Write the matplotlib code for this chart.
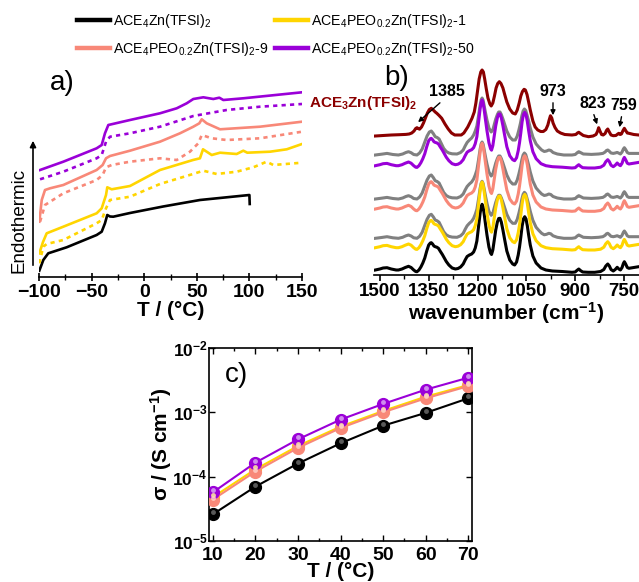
import numpy as np
import matplotlib
matplotlib.use("Agg")
import matplotlib.pyplot as plt
from matplotlib.lines import Line2D
import matplotlib.transforms as mtransforms

plt.rcParams['font.family'] = ['Liberation Sans', 'DejaVu Sans']
plt.rcParams['mathtext.default'] = 'regular'

W, H = 639, 582

# ---------------- colours ----------------
C_BLACK = '#000000'
C_YELLOW = '#FFD500'
C_SALMON = '#F88878'
C_PURPLE = '#9A00D8'
C_GRAY = '#808080'
C_DRED = '#8B0000'

LABELS = ['ACE$_4$Zn(TFSI)$_2$', 'ACE$_4$PEO$_{0.2}$Zn(TFSI)$_2$-1',
          'ACE$_4$PEO$_{0.2}$Zn(TFSI)$_2$-9', 'ACE$_4$PEO$_{0.2}$Zn(TFSI)$_2$-50']

# ---------------- panel a: DSC ----------------
dsc_black_T = [-99.7, -95.9, -91.2, -73.7, -45.2, -40.4, -37.3, -35.1, -32.5, -29.4, -13.5, 18, 53, 100.0, 100.3]
dsc_black_y = [6.3, 17, 23.7, 29.7, 42, 45.3, 53.7, 62, 60.5, 60.3, 64, 70.5, 77, 82, 73]

dsc_yel_T = [-99.7, -96.2, -92.7, -76.9, -45.2, -40.4, -36.3, -35.1, -30.9, -13.5, 15.0, 46.4, 53.0, 55.9, 59.4, 64.2, 72.1, 87.9, 94.2, 98.0, 119.6, 135.5, 150]
dsc_yel_y = [23.7, 35, 43.7, 50.3, 63.7, 68.7, 82, 89.7, 87.7, 91, 107, 117, 118.7, 127.7, 125.3, 122, 124.3, 123, 126.3, 124.3, 125.3, 127.7, 133]
dsc_yel_d_T = [-99.7, -95.9, -92.7, -76.9, -45.2, -40.4, -36.3, -32.5, -13.5, 15, 46.4, 56.2, 68.9, 87.9, 103.7, 116.4, 122.7, 150]
dsc_yel_d_y = [13.7, 30.3, 33, 37, 53.7, 57, 68.7, 77, 80.3, 93, 103, 106.3, 103, 105.3, 109.7, 115.3, 112, 114.3]

dsc_sal_T = [-99.7, -97.4, -94.3, -89.5, -76.9, -45.2, -39.5, -36.3, -32.5, -13.5, 15, 34, 46.7, 52.4, 54.7, 59.4, 72.1, 110.1, 150]
dsc_sal_y = [55.3, 77, 87, 88.7, 92, 107, 112, 118.7, 121, 126.3, 135.3, 143.7, 150.3, 153.7, 157.7, 153.7, 147.7, 150.3, 155.3]
dsc_sal_d_T = [-99, -94.3, -76.9, -45.2, -39.5, -36.3, -30.9, -13.5, 15, 30.9, 43.5, 51.4, 54.7, 64.2, 78.4, 110.1, 150]
dsc_sal_d_y = [55.3, 72, 83.7, 97, 102, 109.7, 112, 115.3, 118.7, 117, 125.3, 133.7, 142, 138.7, 137, 138.7, 145.3]

dsc_pur_T = [-99, -76.9, -45.2, -40.4, -37.3, -34.1, -13.5, 15, 30.9, 40.4, 46.7, 56.2, 65.7, 71.4, 75.2, 94.2, 150]
dsc_pur_y = [107, 115.3, 128.7, 132, 143.7, 152, 157, 163.7, 168.7, 173.7, 178, 179.7, 178, 179.3, 177, 178.7, 184.7]
dsc_pur_d_T = [-99, -76.9, -45.2, -40.4, -36.3, -32.5, -13.5, 15, 46.7, 78.4, 110.1, 150]
dsc_pur_d_y = [97.7, 105.3, 118.7, 122, 135.3, 140.3, 143.7, 150.3, 161, 167, 170.3, 173]

# ---------------- panel b: FTIR ----------------
ir_w = [1514, 1500, 1490, 1478, 1465, 1450, 1443, 1432, 1422, 1412, 1404, 1396, 1390, 1386, 1380, 1374,
        1368, 1362, 1356, 1350, 1345, 1342, 1338, 1334, 1330, 1325, 1320, 1314, 1308, 1302, 1296, 1288,
        1278, 1268, 1260, 1252, 1244, 1238, 1232, 1225, 1218, 1212, 1207, 1202, 1197, 1192, 1189, 1186,
        1183, 1180, 1176, 1171, 1165, 1160, 1157, 1153, 1149, 1144, 1139, 1135, 1131, 1127, 1122, 1117,
        1110, 1101, 1092, 1086, 1080, 1075, 1071, 1067, 1063, 1059, 1055, 1051, 1047, 1043, 1038, 1030,
        1020, 1005, 990, 970, 940, 910, 900, 895, 889, 884, 877, 860, 840, 822, 812, 806,
        800, 795, 790, 783, 777, 771, 766, 761, 756, 752, 749, 745, 740, 735, 720, 705]
ir_ace4 = [7, 8, 9, 9.3, 8, 7, 7, 8, 9.5, 10.7, 9.5, 7, 5.5, 5.3, 7, 10,
           14, 19, 26, 32, 34, 34.3, 33, 31, 30.3, 29.8, 28.7, 25.5, 22.5, 19, 15.5, 12,
           9, 8, 8.5, 10, 13, 17, 20.5, 22, 23, 25, 29, 36, 50, 64, 70, 72.7,
           70, 64, 54, 42, 30, 24, 22.5, 27, 36, 47, 55, 58.5, 58.7, 55, 47, 38,
           26, 17, 13, 12, 15, 22, 30, 40, 51, 58, 60.3, 58, 51, 42, 32, 21,
           14, 9, 7, 6, 5.5, 4.7, 5, 6.5, 8, 6.5, 5, 4.7, 4.7, 5.5, 7.5, 11,
           13, 11, 7.5, 6, 7.5, 9.7, 8, 7, 9.5, 13.5, 15.3, 13, 9.5, 8.7, 9.5, 10.3]

ir_gray_w = [1514, 1495, 1478, 1460, 1443, 1430, 1420, 1412, 1404, 1396, 1386, 1378, 1370, 1362, 1355, 1348,
             1342, 1336, 1330, 1324, 1318, 1312, 1304, 1296, 1288, 1278, 1263, 1252, 1244, 1238, 1232, 1225,
             1218, 1212, 1207, 1202, 1197, 1192, 1189, 1186, 1183, 1180, 1176, 1171, 1165, 1158, 1153, 1149,
             1144, 1139, 1135, 1131, 1127, 1122, 1117, 1110, 1101, 1092, 1084, 1078, 1073, 1068, 1064, 1060,
             1056, 1052, 1048, 1043, 1038, 1030, 1020, 1012, 1003, 995, 988, 981, 975, 968, 955, 935,
             910, 900, 893, 889, 884, 875, 850, 828, 815, 808, 804, 800, 796, 790, 783, 777,
             771, 766, 761, 756, 752, 749, 745, 740, 735, 720, 705]
ir_gray = [7, 7.8, 8.6, 7.5, 7, 8, 9.5, 10.3, 9.3, 7.5, 7, 9, 13, 20, 26, 30,
           31, 28.5, 25.3, 24.5, 23, 19, 13.6, 10.5, 9, 8.2, 8, 9.5, 12, 16, 19.5, 22,
           24, 27, 31, 36, 46, 57, 62, 64, 62, 57, 50, 42, 34, 30, 32, 37,
           43, 47.5, 50, 50, 47.5, 43, 38, 31, 25, 22, 22, 26, 32, 39, 46, 51,
           53, 51.5, 47, 41, 34, 25, 18, 15, 12, 10.5, 11, 12, 11.5, 9.5, 8, 7,
           7, 7.5, 9.5, 10.3, 9.5, 8, 7.6, 8, 8.6, 10, 11.5, 12, 11, 9, 8.6, 9,
           9.6, 8.8, 8, 10, 13, 14.3, 12.5, 9.5, 8.6, 8.6, 8.6]

ir_ace3_w = [1514, 1490, 1465, 1440, 1420, 1410, 1402, 1395, 1390, 1386, 1382, 1378, 1372, 1366, 1360, 1354,
             1348, 1342, 1336, 1330, 1325, 1318, 1310, 1300, 1290, 1280, 1270, 1250, 1242, 1236, 1230, 1224,
             1217, 1210, 1205, 1200, 1195, 1190, 1186, 1182, 1178, 1173, 1168, 1162, 1158, 1153, 1148, 1143,
             1138, 1133, 1128, 1122, 1117, 1110, 1101, 1092, 1084, 1078, 1072, 1067, 1062, 1057, 1053, 1048,
             1043, 1038, 1030, 1023, 1015, 1006, 998, 990, 984, 980, 976, 972, 968, 962, 955, 945,
             932, 910, 898, 893, 889, 884, 875, 859, 845, 836, 831, 828, 824, 819, 814, 808,
             804, 800, 796, 790, 783, 775, 770, 766, 762, 758, 753, 749, 745, 740, 735, 720, 705]
ir_ace3 = [7, 7.5, 8, 8.3, 8.6, 9, 10, 12, 14.5, 15.3, 14.5, 13.8, 16, 20, 25, 30,
           33.5, 34.7, 33, 31, 29.7, 27.5, 24.7, 19, 14, 10, 8, 8, 10, 13, 16, 20,
           24.7, 31, 40, 52, 64, 71, 73, 71, 64, 54, 45, 39, 37, 40, 47, 55,
           59.5, 61.3, 59.5, 55, 49, 41, 34, 30, 29, 33, 40, 47, 51.5, 53.7, 53, 48.5,
           41, 33, 22, 16, 13, 11.5, 11.5, 13.5, 18, 23, 27.3, 25, 20, 15.5, 12, 10,
           8.5, 8, 8.5, 10, 10.7, 9.5, 7.5, 6.3, 7, 8.5, 12, 15.3, 12, 8.5, 8, 9.5,
           12.5, 14, 11.5, 8, 7.3, 7.5, 8.8, 9.7, 8.5, 9, 12.5, 14.7, 12.5, 10, 9.7, 8.5, 8]

ir_color_offsets = [0, 22.3, 61, 104.3]     # black, yellow, salmon, purple
ir_gray_offsets = [31.7, 71, 115]
ir_ace3_offset = 134

# ---------------- panel c: conductivity ----------------
cond_T = [10, 20, 30, 40, 50, 60, 70]
cond_black = [2.6e-5, 7.0e-5, 1.6e-4, 3.3e-4, 6.2e-4, 9.8e-4, 1.65e-3]
cond_yellow = [4.8e-5, 1.3e-4, 3.0e-4, 6.0e-4, 1.05e-3, 1.75e-3, 2.65e-3]
cond_salmon = [4.4e-5, 1.2e-4, 2.8e-4, 5.7e-4, 1.0e-3, 1.65e-3, 2.55e-3]
cond_purple = [5.7e-5, 1.65e-4, 3.8e-4, 7.7e-4, 1.35e-3, 2.25e-3, 3.45e-3]


def rect(l, t, r, b):
    return [l / W, 1 - b / H, (r - l) / W, (b - t) / H]


fig = plt.figure(figsize=(W / 100, H / 100), dpi=100)
LW = 1.9
LWB = 2.2

# ===== panel a =====
axa = fig.add_axes(rect(39, 80, 302, 277))
axa.plot(dsc_black_T, dsc_black_y, color=C_BLACK, lw=LW)
axa.plot(dsc_yel_T, dsc_yel_y, color=C_YELLOW, lw=LW)
axa.plot(dsc_yel_d_T, dsc_yel_d_y, color=C_YELLOW, lw=LW, ls=(0, (1.6, 1.6)))
axa.plot(dsc_sal_T, dsc_sal_y, color=C_SALMON, lw=LW)
axa.plot(dsc_sal_d_T, dsc_sal_d_y, color=C_SALMON, lw=LW, ls=(0, (1.6, 1.6)))
axa.plot(dsc_pur_T, dsc_pur_y, color=C_PURPLE, lw=LW)
axa.plot(dsc_pur_d_T, dsc_pur_d_y, color=C_PURPLE, lw=LW, ls=(0, (1.6, 1.6)))
axa.set_xlim(-100, 150)
axa.set_ylim(0, 197)
for s in ['left', 'top', 'right']:
    axa.spines[s].set_visible(False)
axa.spines['bottom'].set_linewidth(1.2)
axa.set_yticks([])
axa.set_xticks([-100, -50, 0, 50, 100, 150])
axa.set_xticks([-75, -25, 25, 75, 125], minor=True)
axa.tick_params(axis='x', which='major', direction='inout', length=6, width=1.2, labelsize=14, pad=2)
axa.tick_params(axis='x', which='minor', direction='inout', length=4, width=1.0)
for lab in axa.get_xticklabels():
    lab.set_fontweight('bold')
axa.set_xlabel('T / (°C)', fontsize=15, fontweight='bold', labelpad=0)
axa.patch.set_alpha(0)

# arrow + Endothermic
fig.add_artist(matplotlib.patches.FancyArrowPatch((33 / W, 1 - 268 / H), (33 / W, 1 - 138 / H),
                                                  transform=fig.transFigure, arrowstyle='-|>',
                                                  mutation_scale=9, lw=1.2, color='black'))
fig.text(19 / W, 1 - 220 / H, 'Endothermic', rotation=90, fontsize=13.5, ha='center', va='center')
fig.text(50 / W, 1 - 83 / H, 'a)', fontsize=20, ha='left', va='center')

# ===== panel b =====
axb = fig.add_axes(rect(374, 60, 639, 275))
for off in ir_gray_offsets:
    axb.plot(ir_gray_w, np.array(ir_gray) + off, color=C_GRAY, lw=LWB, solid_joinstyle='round')
for off, col in zip(ir_color_offsets, [C_BLACK, C_YELLOW, C_SALMON, C_PURPLE]):
    axb.plot(ir_w, np.array(ir_ace4) + off, color=col, lw=LWB, solid_joinstyle='round')
axb.plot(ir_ace3_w, np.array(ir_ace3) + ir_ace3_offset, color=C_DRED, lw=LWB, solid_joinstyle='round')
axb.set_xlim(1518, 704)
axb.set_ylim(2, 217)
for s in ['left', 'top', 'right']:
    axb.spines[s].set_visible(False)
axb.spines['bottom'].set_linewidth(1.2)
axb.set_yticks([])
axb.set_xticks([1500, 1350, 1200, 1050, 900, 750])
axb.set_xticks([1425, 1275, 1125, 975, 825], minor=True)
axb.tick_params(axis='x', which='major', direction='out', length=4, width=1.2, labelsize=13.5, pad=2)
axb.tick_params(axis='x', which='minor', direction='out', length=3, width=1.0)
for lab in axb.get_xticklabels():
    lab.set_fontweight('bold')
axb.set_xlabel('wavenumber (cm$^{-1}$)', fontsize=15, fontweight='bold', labelpad=0)
axb.patch.set_alpha(0)

fig.text(384 / W, 1 - 78 / H, 'b)', fontsize=20, ha='left', va='center')
fig.text(309 / W, 1 - 103 / H, 'ACE$_3$Zn(TFSI)$_2$', fontsize=11, fontweight='bold', color=C_DRED,
         ha='left', va='center')

arrows = [('1385', 447, 91, 442, 101, 416, 124),
          ('973', 553, 91, 553, 100, 553, 118),
          ('823', 593, 103, 593, 112, 598, 127),
          ('759', 624, 105, 622, 114, 619, 130)]
for txt, xt, yt, x0, y0, x1, y1 in arrows:
    fig.text(xt / W, 1 - yt / H, txt, fontsize=11.5, fontweight='bold', ha='center', va='center')
    fig.add_artist(matplotlib.patches.FancyArrowPatch((x0 / W, 1 - y0 / H), (x1 / W, 1 - y1 / H),
                                                      transform=fig.transFigure, arrowstyle='-|>',
                                                      mutation_scale=7, lw=1.0, color='black'))

# ===== panel c =====
axc = fig.add_axes(rect(209, 348, 472, 541))
series_c = [(cond_black, C_BLACK, '#6a6a6a'), (cond_yellow, C_YELLOW, '#FFF0A0'),
            (cond_salmon, C_SALMON, '#FFCFC6'), (cond_purple, C_PURPLE, '#D9A6F2')]
hl = mtransforms.offset_copy(axc.transData, fig=fig, x=0, y=2, units='dots')
for vals, col, light in series_c:
    axc.plot(cond_T, vals, color=col, lw=1.5, marker='o', ms=8.5, mfc=col, mec=col, zorder=3)
    axc.plot(cond_T, vals, ls='none', marker='o', ms=3.5, mfc=light, mec='none', alpha=0.85,
             transform=hl, zorder=4)
axc.set_yscale('log')
axc.set_xlim(9.1, 70.9)
axc.set_ylim(1e-5, 1e-2)
axc.set_xticks(cond_T)
axc.set_xticks([15, 25, 35, 45, 55, 65], minor=True)
axc.set_yticks([1e-5, 1e-4, 1e-3, 1e-2])
axc.set_yticklabels(['10$^{-5}$', '10$^{-4}$', '10$^{-3}$', '10$^{-2}$'])
axc.yaxis.set_minor_locator(matplotlib.ticker.NullLocator())
axc.tick_params(which='both', direction='in', top=True, right=True, width=1.0)
axc.tick_params(which='major', length=4, labelsize=14)
axc.tick_params(axis='x', which='major', pad=4)
axc.tick_params(axis='y', which='major', pad=1, labelsize=12.5)
axc.tick_params(which='minor', length=2.5)
for lab in axc.get_xticklabels() + axc.get_yticklabels():
    lab.set_fontweight('bold')
for s in axc.spines.values():
    s.set_linewidth(1.2)
axc.set_xlabel('T / (°C)', fontsize=15, fontweight='bold', labelpad=-1)
axc.set_ylabel('σ / (S cm$^{-1}$)', fontsize=15, fontweight='bold', labelpad=-1)
axc.text(0.06, 0.86, 'c)', transform=axc.transAxes, fontsize=20, ha='left', va='center')

# ===== legend =====
handles = [Line2D([], [], color=C_BLACK, lw=3.2), Line2D([], [], color=C_SALMON, lw=3.2),
           Line2D([], [], color=C_YELLOW, lw=3.2), Line2D([], [], color=C_PURPLE, lw=3.2)]
labs = [LABELS[0], LABELS[2], LABELS[1], LABELS[3]]
fig.legend(handles, labs, ncol=2, loc='upper left', bbox_to_anchor=(73 / W, 1 - 8 / H),
           frameon=False, fontsize=10.2, handlelength=2.3, handletextpad=0.2, columnspacing=0.5,
           labelspacing=0.7, borderaxespad=0, borderpad=0.3)

fig.savefig('out.png', dpi=100)
